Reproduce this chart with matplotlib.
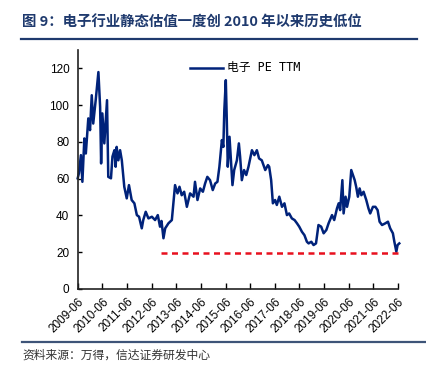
import matplotlib.pyplot as plt
from matplotlib.lines import Line2D

plt.rcParams['font.family'] = ['Liberation Sans', 'Noto Sans CJK SC', 'DejaVu Sans']

# 电子行业 PE TTM，横轴为小数年份
years = [
    2009.42, 2009.47, 2009.55, 2009.61, 2009.69, 2009.75, 2009.85, 2009.92, 2009.99, 2010.05,
    2010.15, 2010.26, 2010.33, 2010.37, 2010.42, 2010.50, 2010.61, 2010.66, 2010.77, 2010.83,
    2010.91, 2010.96, 2011.00, 2011.07, 2011.14, 2011.21, 2011.31, 2011.41, 2011.50, 2011.61,
    2011.72, 2011.82, 2011.91, 2012.02, 2012.08, 2012.18, 2012.29, 2012.43, 2012.56, 2012.67,
    2012.76, 2012.82, 2012.90, 2012.97, 2013.10, 2013.24, 2013.37, 2013.47, 2013.55, 2013.64,
    2013.74, 2013.85, 2013.98, 2014.12, 2014.18, 2014.28, 2014.39, 2014.50, 2014.59, 2014.68,
    2014.79, 2014.90, 2015.00, 2015.09, 2015.17, 2015.27, 2015.33, 2015.37, 2015.43, 2015.47,
    2015.51, 2015.58, 2015.63, 2015.70, 2015.77, 2015.88, 2015.96, 2016.01, 2016.08, 2016.17,
    2016.26, 2016.35, 2016.49, 2016.59, 2016.69, 2016.78, 2016.89, 2017.03, 2017.14, 2017.19,
    2017.27, 2017.34, 2017.43, 2017.50, 2017.60, 2017.71, 2017.81, 2017.91, 2018.00, 2018.11,
    2018.22, 2018.32, 2018.41, 2018.52, 2018.62, 2018.72, 2018.79, 2018.90, 2018.99, 2019.09,
    2019.19, 2019.30, 2019.40, 2019.51, 2019.60, 2019.74, 2019.83, 2019.94, 2020.01, 2020.07,
    2020.16, 2020.21, 2020.29, 2020.35, 2020.44, 2020.52, 2020.59, 2020.66, 2020.72, 2020.79,
    2020.86, 2020.93, 2021.02, 2021.13, 2021.22, 2021.29, 2021.40, 2021.50, 2021.59, 2021.67,
    2021.77, 2021.90, 2022.01, 2022.10, 2022.21, 2022.27, 2022.35, 2022.40, 2022.47,
]
pe_ttm = [
    60.2, 63.0, 72.8, 58.3, 81.9, 73.7, 92.8, 86.4, 105.4, 90.0,
    102.7, 118.0, 99.0, 68.3, 95.5, 79.2, 102.7, 61.0, 60.2, 72.0,
    75.5, 66.5, 77.3, 70.0, 75.5, 70.0, 55.6, 49.3, 56.5, 48.4,
    46.6, 40.2, 39.3, 33.0, 37.5, 42.0, 38.4, 39.3, 37.5, 40.2,
    33.9, 37.0, 27.6, 33.0, 35.7, 37.5, 56.5, 52.0, 55.6, 51.0,
    52.9, 44.7, 52.0, 50.2, 58.3, 48.4, 54.7, 52.9, 57.4, 61.0,
    59.2, 53.8, 57.4, 58.3, 66.5, 81.0, 77.3, 97.3, 113.6, 91.8,
    66.5, 82.8, 72.0, 56.5, 64.7, 70.0, 79.2, 72.0, 59.2, 64.7,
    62.0, 66.5, 75.5, 72.8, 75.5, 71.0, 70.0, 64.7, 67.4, 66.5,
    59.2, 46.6, 48.4, 45.7, 50.2, 44.7, 46.6, 40.2, 41.1, 38.4,
    37.5, 35.7, 33.9, 31.1, 29.3, 25.7, 24.8, 25.7, 23.9, 24.8,
    34.8, 33.9, 30.3, 32.1, 35.7, 40.2, 37.5, 43.8, 46.6, 42.9,
    59.2, 41.1, 50.2, 44.7, 50.2, 64.7, 62.0, 59.2, 55.6, 50.2,
    54.7, 51.0, 52.9, 48.4, 43.8, 41.1, 44.7, 44.7, 42.9, 36.6,
    34.8, 35.7, 36.6, 33.0, 30.3, 25.7, 20.3, 23.9, 24.8,
]

# 红色虚线：历史低位
low_span = [2012.80, 2022.55]
low_value = 19.5

tick_years = [2009.42 + k for k in range(14)]
tick_labels = [f'{2009 + k}-06' for k in range(14)]

navy = '#00227A'
red = '#E8101E'

fig = plt.figure(figsize=(4.26, 3.74), dpi=100)
ax = fig.add_axes([0.1824, 0.2273, 0.7526, 0.639])

ax.plot(years, pe_ttm, color=navy, lw=1.8, clip_on=False)
ax.plot(low_span, [low_value, low_value], color=red, lw=1.8,
        linestyle=(0, (2.4, 1.8)), clip_on=False)

ax.set_xlim(2009.42, 2022.43)
ax.set_ylim(0, 130)
ax.set_yticks(range(0, 121, 20))
ax.set_xticks(tick_years)
ax.set_xticklabels(tick_labels, rotation=45, ha='right', rotation_mode='anchor')
ax.tick_params(direction='in', length=4, width=1, labelsize=8.5, colors='black')
ax.tick_params(axis='y', length=3, pad=6)
ax.tick_params(axis='x', pad=5)
for side in ['top', 'right']:
    ax.spines[side].set_visible(False)
for side in ['left', 'bottom']:
    ax.spines[side].set_linewidth(1.2)
    ax.spines[side].set_color('#222222')

# 图例
fig.add_artist(Line2D([190 / 426, 223 / 426], [1 - 68 / 374, 1 - 68 / 374],
                      color=navy, lw=1.8))
fig.text(227 / 426, 1 - 68 / 374, '电子 PE TTM', fontsize=8.5, va='center',
         family=['DejaVu Sans Mono', 'Noto Sans CJK SC'])

# 标题与分隔线
fig.text(22 / 426, 1 - 23 / 374, '图 9：电子行业静态估值一度创 2010 年以来历史低位',
         fontsize=10.4, fontweight='bold', color='#1F3A6E', va='center',
         family=['Noto Sans CJK SC', 'DejaVu Sans'])
fig.add_artist(Line2D([21 / 426, 417 / 426], [1 - 38.5 / 374, 1 - 38.5 / 374],
                      color='#1F3A6E', lw=1.6))
fig.add_artist(Line2D([22 / 426, 426 / 426], [1 - 341.5 / 374, 1 - 341.5 / 374],
                      color='#3E5478', lw=1.6))
fig.text(22 / 426, 1 - 355 / 374, '资料来源：万得，信达证券研发中心', fontsize=8.5,
         color='#333333', va='center', style='italic',
         family=['Noto Sans CJK SC', 'DejaVu Sans'])

fig.savefig('out.png', dpi=100)
